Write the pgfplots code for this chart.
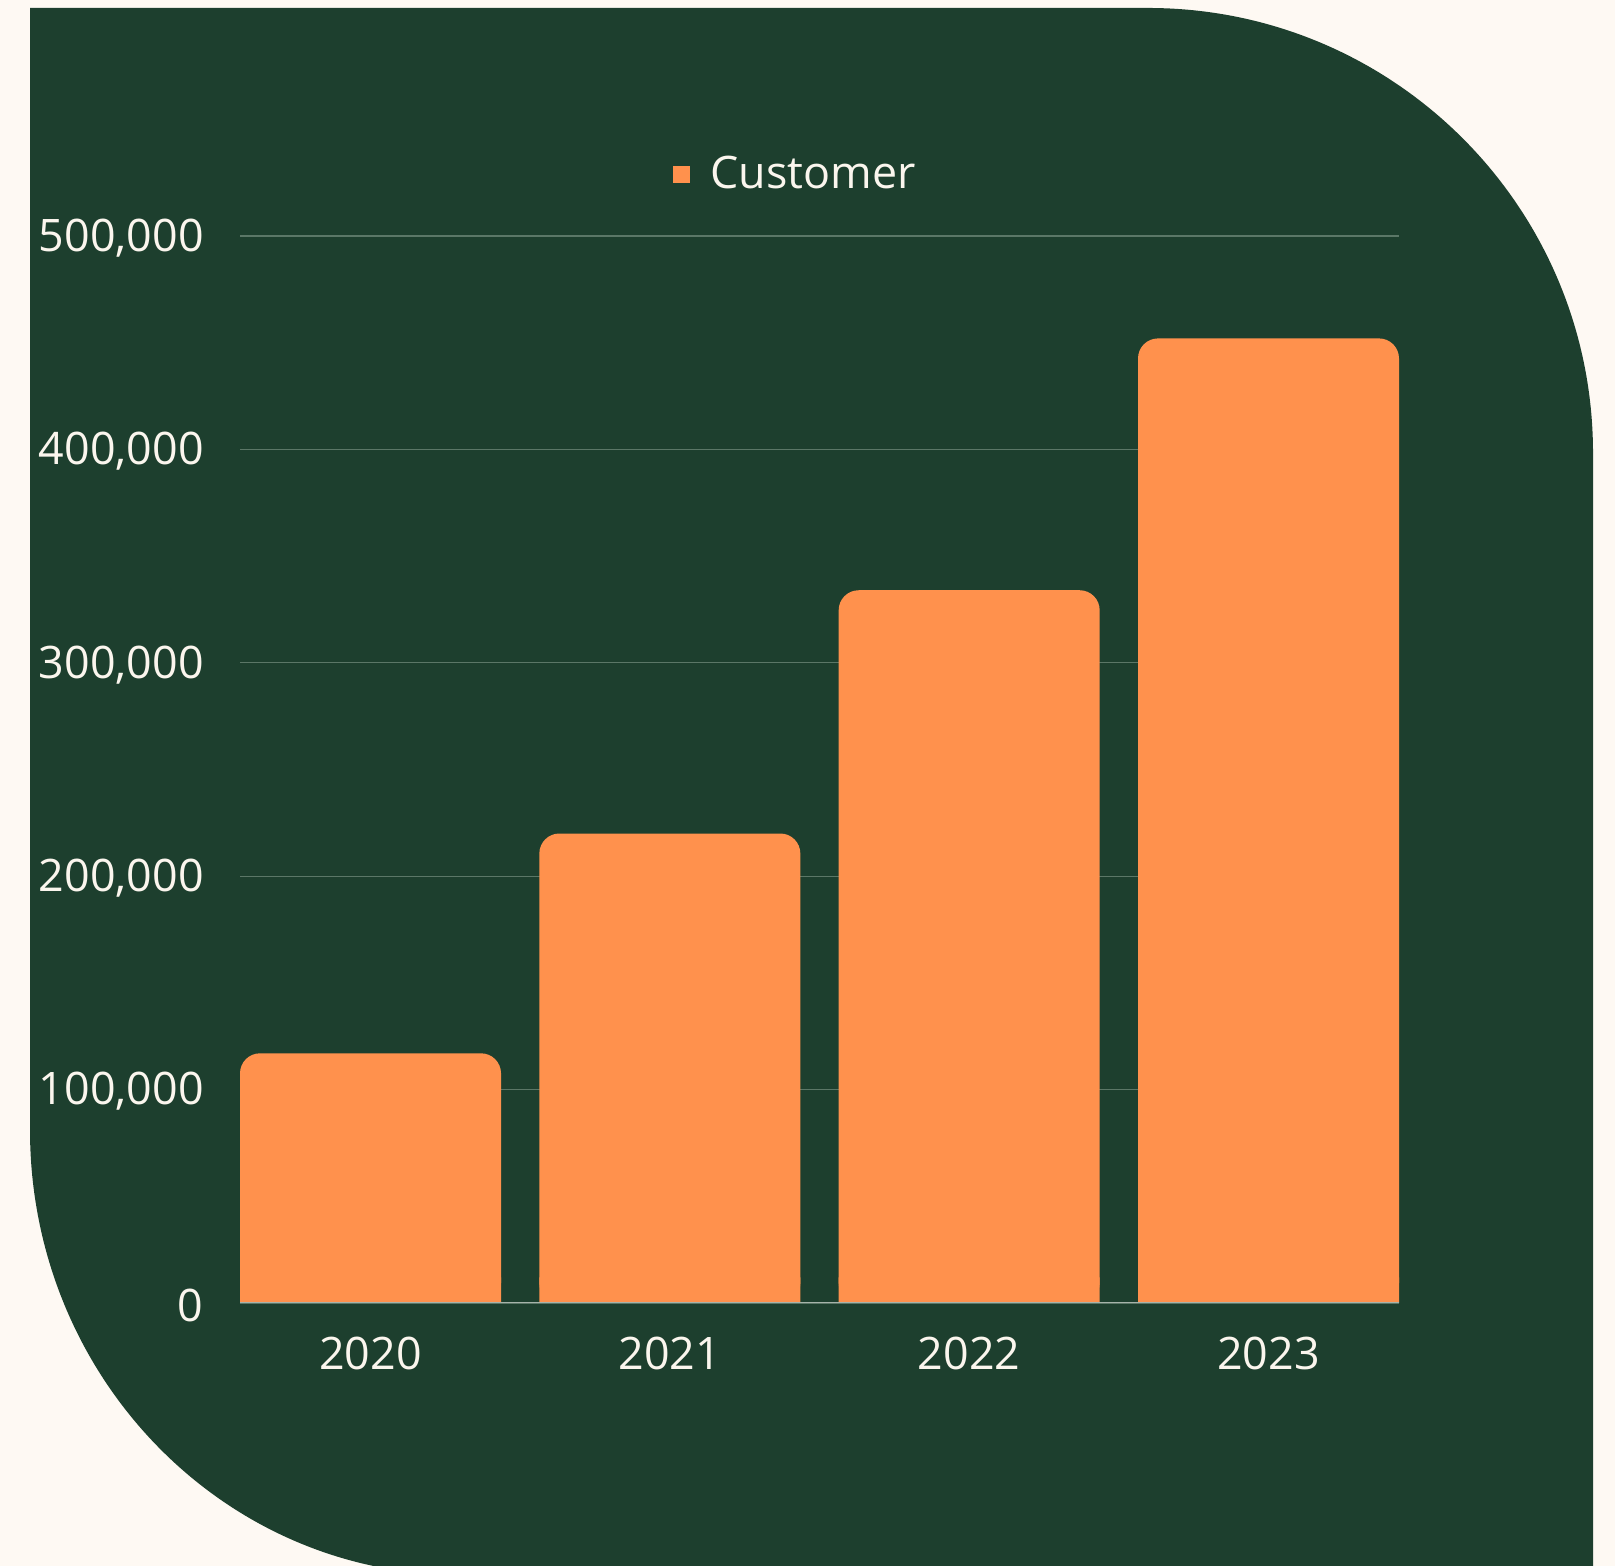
\documentclass[border=0pt]{standalone}
\usepackage{pgfplots}
\pgfplotsset{compat=1.18}
\usepackage{fontspec}
\setmainfont{Open Sans}
\definecolor{bgc}{HTML}{FEF9F3}
\definecolor{panel}{HTML}{1D3F2E}
\definecolor{barc}{HTML}{FF914D}
\definecolor{gridc}{HTML}{5B7767}
\definecolor{txt}{HTML}{FBF6EE}
\definecolor{basec}{HTML}{A6B3AA}
\begin{document}
\begin{tikzpicture}
\fill[bgc] (0pt,0pt) rectangle (807.5pt,783pt);
\useasboundingbox (0pt,0pt) rectangle (807.5pt,783pt);
\begin{scope}
\clip (0pt,0pt) rectangle (807.5pt,783pt);
\fill[panel] (15pt,779pt) -- (574pt,779pt) arc[start angle=90,end angle=0,radius=222.5pt]
  -- (796.5pt,-5pt) -- (230pt,-5pt) -- (230pt,-4.5pt) arc[start angle=270,end angle=180,x radius=215pt,y radius=222.5pt] -- cycle;
\end{scope}
\begin{axis}[
  at={(120pt,131.5pt)}, anchor=south west,
  scale only axis, width=579.5pt, height=533.5pt,
  xmin=-0.436, xmax=3.436, ymin=0, ymax=500000,
  ybar, bar width=130.5pt,
  axis line style={draw=none},
  tick style={draw=none},
  xtick={0,1,2,3}, xticklabels={2020,2021,2022,2023},
  ytick={0,100000,200000,300000,400000,500000},
  scaled y ticks=false,
  yticklabel={\pgfmathprintnumber[fixed,1000 sep={,},assume math mode=true]{\tick}},
  ymajorgrids, grid style={gridc, line width=0.6pt},
  ticklabel style={font=\fontsize{22.4}{27}\selectfont, text=txt},
  yticklabel style={inner sep=0pt, xshift=-18pt, yshift=-1pt},
  xticklabel style={inner sep=0pt, anchor=north, yshift=-12.5pt},
  legend style={at={(0.3736,1.058)}, anchor=west, draw=none, fill=none,
    text=txt, font=\fontsize{22.4}{27}\selectfont, inner sep=0pt, column sep=10pt,
    nodes={inner sep=0pt}},
  legend image code/.code={\fill[barc, sharp corners] (0pt,-4.25pt) rectangle (8.5pt,4.25pt);},
]
\addplot[fill=barc, draw=none, bar shift=0pt, rounded corners=10pt] coordinates {(0,117000) (1,220000) (2,334000) (3,452000)};
\addlegendentry{Customer}
\addplot[fill=barc, draw=none, bar shift=0pt, forget plot] coordinates {(0,12000) (1,12000) (2,12000) (3,12000)};
\draw[basec, line width=0.8pt] (axis cs:-0.436,0) -- (axis cs:3.436,0);
\end{axis}
\end{tikzpicture}
\end{document}
